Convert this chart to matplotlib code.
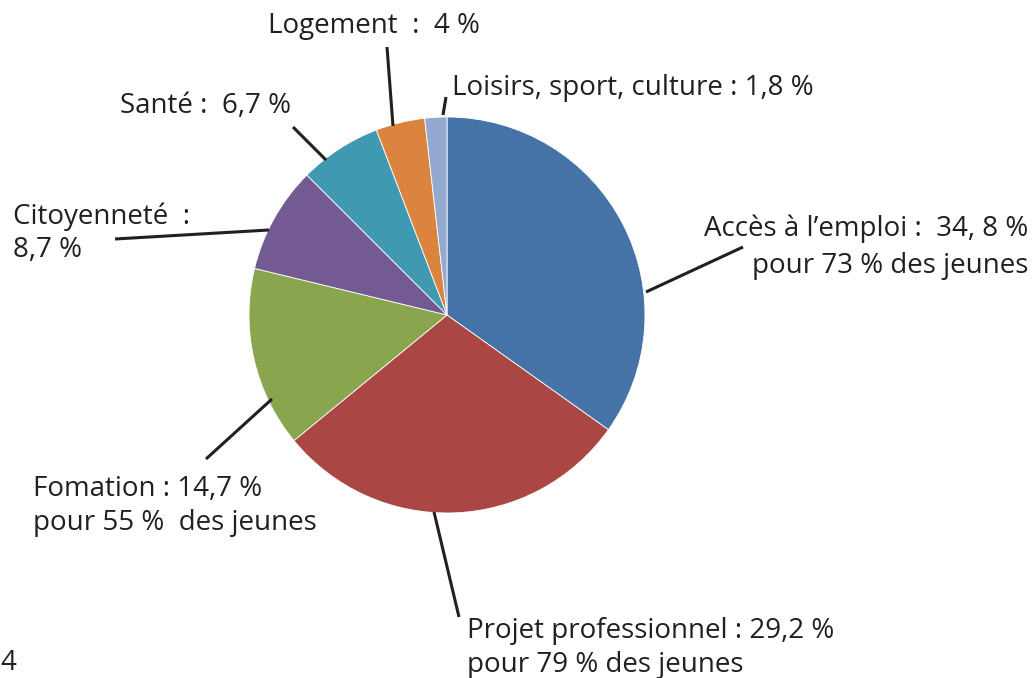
import matplotlib
matplotlib.use("Agg")
import matplotlib.pyplot as plt

categories = ["Accès à l'emploi", "Projet professionnel", "Fomation", "Citoyenneté",
              "Santé", "Logement", "Loisirs, sport, culture"]
values = [34.8, 29.2, 14.7, 8.7, 6.7, 4.0, 1.8]
colors = ["#4572A7", "#AA4643", "#89A54E", "#735A92", "#3F99B0", "#DB843D", "#93A9CF"]
labels = [
    "Accès à l’emploi :  34, 8 %\npour 73 % des jeunes",
    "Projet professionnel : 29,2 %\npour 79 % des jeunes",
    "Fomation : 14,7 %\npour 55 %  des jeunes",
    "Citoyenneté  :\n8,7 %",
    "Santé :  6,7 %",
    "Logement  :  4 %",
    "Loisirs, sport, culture : 1,8 %",
]

W, H = 1033, 678
fig = plt.figure(figsize=(W / 100, H / 100), dpi=100)
ax = fig.add_axes([0, 0, 1, 1])
ax.set_xlim(0, W)
ax.set_ylim(0, H)
ax.set_aspect("equal")
ax.axis("off")

cx, cy, r = 447, H - 315, 198
ax.pie(values, colors=colors, startangle=90, counterclock=False,
       center=(cx, cy), radius=r, frame=True,
       wedgeprops=dict(edgecolor="white", linewidth=0.6))
ax.set_xlim(0, W)
ax.set_ylim(0, H)
ax.axis("off")

tc = "#231F20"
font = dict(family="Open Sans", fontsize=20, color=tc)

# label text placements (pixel coords from top), line spacing, and leader lines
text_specs = [
    (1028, 247, "right", 1.42),
    (467, 648, "left", 1.25),
    (33, 506, "left", 1.25),
    (13, 233, "left", 1.25),
    (120, 106, "left", 1.25),
    (268, 26, "left", 1.25),
    (452, 88, "left", 1.25),
]
leaders = [
    ((646, 292), (743, 247)),
    ((434, 512), (459, 617)),
    ((272, 399), (206, 459)),
    ((269, 230), (115, 239)),
    ((326, 160), (293, 127)),
    ((393, 126), (387, 47)),
    ((443, 115), (446, 97)),
]
for lab, (x, y, ha, ls), ((x0, y0), (x1, y1)) in zip(labels, text_specs, leaders):
    ax.text(x, H - y, lab, ha=ha, va="center", multialignment=ha,
            linespacing=ls, **font)
    ax.plot([x0, x1], [H - y0, H - y1], color=tc, lw=2.2, solid_capstyle="butt")

ax.text(0, H - 663, "4", ha="left", va="center", **font)

fig.savefig("out.png", dpi=100)
